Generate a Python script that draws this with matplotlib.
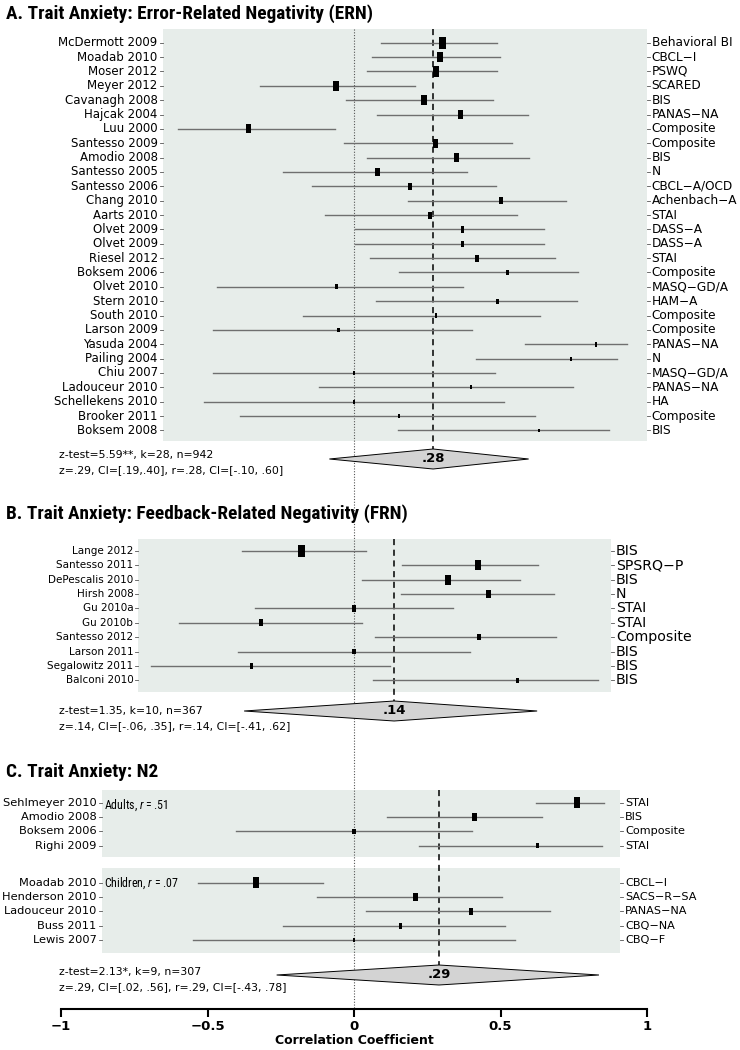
import matplotlib
matplotlib.use("Agg")
import matplotlib.pyplot as plt
from matplotlib import font_manager
from matplotlib.patches import Rectangle, Polygon
import numpy as np

# ---------------- data: A. ERN ----------------
ern_study = ['McDermott 2009', 'Moadab 2010', 'Moser 2012', 'Meyer 2012', 'Cavanagh 2008',
             'Hajcak 2004', 'Luu 2000', 'Santesso 2009', 'Amodio 2008', 'Santesso 2005',
             'Santesso 2006', 'Chang 2010', 'Aarts 2010', 'Olvet 2009', 'Olvet 2009',
             'Riesel 2012', 'Boksem 2006', 'Olvet 2010', 'Stern 2010', 'South 2010',
             'Larson 2009', 'Yasuda 2004', 'Pailing 2004', 'Chiu 2007', 'Ladouceur 2010',
             'Schellekens 2010', 'Brooker 2011', 'Boksem 2008']
ern_measure = ['Behavioral BI', 'CBCL\u2212I', 'PSWQ', 'SCARED', 'BIS', 'PANAS\u2212NA',
               'Composite', 'Composite', 'BIS', 'N', 'CBCL\u2212A/OCD', 'Achenbach\u2212A',
               'STAI', 'DASS\u2212A', 'DASS\u2212A', 'STAI', 'Composite', 'MASQ\u2212GD/A',
               'HAM\u2212A', 'Composite', 'Composite', 'PANAS\u2212NA', 'N', 'MASQ\u2212GD/A',
               'PANAS\u2212NA', 'HA', 'Composite', 'BIS']
ern_r = [0.303, 0.295, 0.280, -0.061, 0.240, 0.364, -0.361, 0.278, 0.349, 0.080,
         0.190, 0.501, 0.259, 0.370, 0.370, 0.420, 0.524, -0.061, 0.490, 0.280,
         -0.052, 0.826, 0.741, 0.0, 0.400, 0.0, 0.154, 0.630]
ern_lo = [0.091, 0.061, 0.043, -0.321, -0.027, 0.080, -0.599, -0.034, 0.043, -0.242,
          -0.144, 0.184, -0.100, 0.003, 0.003, 0.056, 0.152, -0.469, 0.074, -0.173,
          -0.482, 0.584, 0.418, -0.480, -0.118, -0.512, -0.388, 0.150]
ern_hi = [0.487, 0.498, 0.487, 0.208, 0.474, 0.595, -0.065, 0.539, 0.597, 0.386,
          0.484, 0.723, 0.556, 0.647, 0.647, 0.686, 0.766, 0.371, 0.761, 0.635,
          0.402, 0.933, 0.897, 0.480, 0.747, 0.512, 0.617, 0.870]
ern_wt = [6.7, 6.0, 6.0, 6.0, 5.7, 5.0, 5.0, 5.0, 4.7, 4.7, 4.3, 3.7, 4.0, 3.7, 3.7,
          4.0, 3.3, 3.0, 2.7, 2.7, 2.7, 2.7, 2.3, 2.3, 2.3, 2.3, 2.3, 2.0]
ern_sum = [0.27, -0.084, 0.596]
ern_sum_label = '.28'
ern_stats = ['z-test=5.59**, k=28, n=942', 'z=.29, CI=[.19,.40], r=.28, CI=[-.10, .60]']

# ---------------- data: B. FRN ----------------
frn_study = ['Lange 2012', 'Santesso 2011', 'DePescalis 2010', 'Hirsh 2008', 'Gu 2010a',
             'Gu 2010b', 'Santesso 2012', 'Larson 2011', 'Segalowitz 2011', 'Balconi 2010']
frn_measure = ['BIS', 'SPSRQ\u2212P', 'BIS', 'N', 'STAI', 'STAI', 'Composite', 'BIS', 'BIS', 'BIS']
frn_r = [-0.180, 0.423, 0.322, 0.459, 0.0, -0.319, 0.427, 0.0, -0.349, 0.559]
frn_lo = [-0.382, 0.164, 0.027, 0.159, -0.338, -0.596, 0.071, -0.395, -0.694, 0.064]
frn_hi = [0.040, 0.628, 0.565, 0.683, 0.338, 0.026, 0.688, 0.396, 0.124, 0.834]
frn_wt = [7.0, 5.7, 5.7, 4.7, 4.0, 4.0, 3.8, 3.3, 3.0, 2.7]
frn_sum = [0.137, -0.375, 0.625]
frn_sum_label = '.14'
frn_stats = ['z-test=1.35, k=10, n=367', 'z=.14, CI=[-.06, .35], r=.14, CI=[-.41, .62]']

# ---------------- data: C. N2 ----------------
n2_study = ['Sehlmeyer 2010', 'Amodio 2008', 'Boksem 2006', 'Righi 2009',
            'Moadab 2010', 'Henderson 2010', 'Ladouceur 2010', 'Buss 2011', 'Lewis 2007']
n2_measure = ['STAI', 'BIS', 'Composite', 'STAI',
              'CBCL\u2212I', 'SACS\u2212R\u2212SA', 'PANAS\u2212NA', 'CBQ\u2212NA', 'CBQ\u2212F']
n2_groups = ['Adults', 'Children']
n2_group_r = ['.51', '.07']
n2_r = [0.761, 0.411, 0.0, 0.626, -0.336, 0.210, 0.400, 0.159, 0.0]
n2_lo = [0.620, 0.114, -0.404, 0.223, -0.533, -0.127, 0.040, -0.242, -0.551]
n2_hi = [0.854, 0.640, 0.404, 0.845, -0.105, 0.504, 0.669, 0.515, 0.551]
n2_wt = [6.0, 5.0, 3.3, 3.0, 6.0, 4.3, 4.0, 3.7, 2.3]
n2_sum = [0.290, -0.264, 0.836]
n2_sum_label = '.29'
n2_stats = ['z-test=2.13*, k=9, n=307', 'z=.29, CI=[.02, .56], r=.29, CI=[-.43, .78]']

# ---------------- fonts ----------------
# look for a narrow / condensed face for the titles, like the original
names = {f.name for f in font_manager.fontManager.ttflist}
narrow = None
for cand in ['Liberation Sans Narrow', 'DejaVu Sans Condensed', 'Roboto Condensed',
             'Open Sans Condensed', 'Noto Sans Condensed']:
    if cand in names:
        narrow = cand
        break
if narrow is None:
    others = sorted(n for n in names if 'Narrow' in n or 'Condensed' in n)
    narrow = others[0] if others else None

if narrow == 'Liberation Sans Narrow':
    title_size, sub_size = 14.3, 10.0
elif narrow is not None:
    title_size, sub_size = 13.9, 8.6
else:
    narrow = 'DejaVu Sans'
    title_size, sub_size = 9.8, 8.0
NARROW = [narrow, 'DejaVu Sans']

plt.rcParams['font.family'] = ['DejaVu Sans']
plt.rcParams['mathtext.fontset'] = 'custom'
plt.rcParams['mathtext.it'] = narrow + ':italic'
plt.rcParams['mathtext.rm'] = narrow

# ---------------- layout (pixel based) ----------------
W, H = 740, 1050
X0, XS = 354.0, 293.0          # pixel of r=0, pixels per unit r
ROW = 14.36
SHADE = '#e7edea'


def px(p):
    return (p - X0) / XS


fig = plt.figure(figsize=(W / 100, H / 100), dpi=100)
ax = fig.add_axes([0, 0, 1, 1])
ax.set_xlim(px(0), px(W))
ax.set_ylim(H, 0)
ax.axis('off')

# zero reference line running through all panels
ax.plot([0, 0], [28.7, 1009], linestyle=(0, (1, 1.5)), color='#555555', lw=0.8, zorder=1)


def draw_panel(title, title_y, studies, measures, r, lo, hi, wt, rows_y, boxes,
               xl, xr, lfs, rfs, summ, summ_label, stats, dia_y, stats_y):
    ax.text(px(6), title_y, title, family=NARROW, weight='bold', size=title_size,
            ha='left', va='center')
    for top, bot in boxes:
        ax.add_patch(Rectangle((xl, top), xr - xl, bot - top, facecolor=SHADE,
                               edgecolor='none', zorder=0))
    est, slo, shi = summ
    # dashed line at the summary estimate
    ax.plot([est, est], [boxes[0][0], dia_y - 10], color='black', lw=1.1,
            dashes=(4, 3), zorder=2)
    for i, y in enumerate(rows_y):
        ax.plot([lo[i], hi[i]], [y, y], color='#6f6f6f', lw=1.0, zorder=3)
        w = wt[i]
        h = 1.75 * w
        ax.add_patch(Rectangle((r[i] - w / 2 / XS, y - h / 2), w / XS, h,
                               facecolor='black', edgecolor='none', zorder=4))
        ax.plot([xl - 3 / XS, xl], [y, y], color='#555555', lw=0.6)
        ax.plot([xr, xr + 3 / XS], [y, y], color='#555555', lw=0.6)
        ax.text(xl - 5 / XS, y, studies[i], ha='right', va='center', size=lfs)
        ax.text(xr + 5 / XS, y, measures[i], ha='left', va='center', size=rfs)
    ax.add_patch(Polygon([(slo, dia_y), (est, dia_y - 10), (shi, dia_y), (est, dia_y + 10)],
                         closed=True, facecolor='#d3d3d3', edgecolor='black', lw=0.7,
                         zorder=3))
    ax.text(est, dia_y, summ_label, ha='center', va='center', weight='bold', size=9.5,
            zorder=5)
    ax.text(px(59), stats_y, stats[0], ha='left', va='center', size=7.8)
    ax.text(px(59), stats_y + 15.5, stats[1], ha='left', va='center', size=7.8)


draw_panel('A. Trait Anxiety: Error-Related Negativity (ERN)', 14,
           ern_study, ern_measure, ern_r, ern_lo, ern_hi, ern_wt,
           42.7 + ROW * np.arange(len(ern_study)), [(28.7, 440.7)],
           px(162.7), px(646.7), 8.5, 8.7, ern_sum, ern_sum_label, ern_stats, 459, 455)

draw_panel('B. Trait Anxiety: Feedback-Related Negativity (FRN)', 514,
           frn_study, frn_measure, frn_r, frn_lo, frn_hi, frn_wt,
           551 + ROW * np.arange(len(frn_study)), [(539, 692)],
           px(138.3), px(611.1), 7.5, 10.2, frn_sum, frn_sum_label, frn_stats, 711, 711)

n2_rows = np.concatenate([802.7 + ROW * np.arange(4), 882.7 + ROW * np.arange(5)])
draw_panel('C. Trait Anxiety: N2', 772,
           n2_study, n2_measure, n2_r, n2_lo, n2_hi, n2_wt,
           n2_rows, [(790, 857), (868, 953)],
           px(101.7), px(620), 8.2, 8.1, n2_sum, n2_sum_label, n2_stats, 975, 971.5)

# subgroup labels
for g, gr, y in zip(n2_groups, n2_group_r, [805, 883]):
    ax.text(px(104), y, g + ', $r$ = ' + gr, family=NARROW, size=sub_size,
            ha='left', va='center')

# x axis
axx = fig.add_axes([61 / W, 1 - 1009 / H, 586 / W, 0.0001])
axx.set_xlim(-1, 1)
axx.patch.set_alpha(0)
for s in ['top', 'left', 'right']:
    axx.spines[s].set_visible(False)
axx.spines['bottom'].set_linewidth(1.5)
axx.set_yticks([])
axx.set_xticks([-1, -0.5, 0, 0.5, 1])
axx.set_xticklabels(['\u22121', '\u22120.5', '0', '0.5', '1'], fontweight='bold', fontsize=9.5)
axx.tick_params(axis='x', direction='out', length=6, width=1.5, pad=2)
axx.set_xlabel('Correlation Coefficient', fontweight='bold', fontsize=9, labelpad=1)

fig.savefig('out.png', dpi=100)
